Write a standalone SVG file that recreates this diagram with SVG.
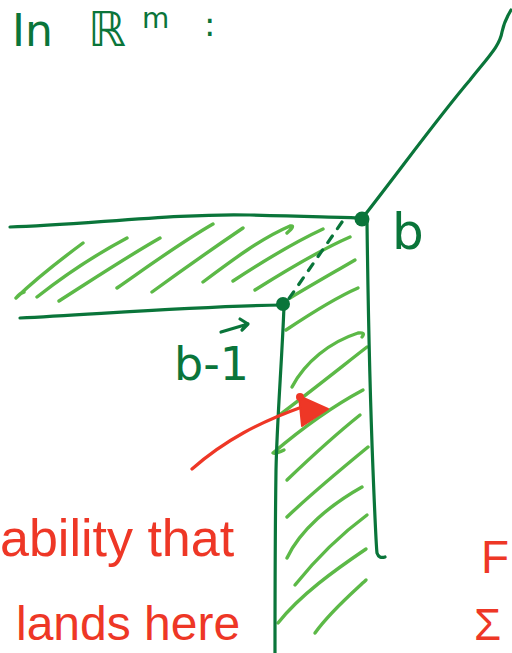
<svg xmlns="http://www.w3.org/2000/svg" width="512" height="653" viewBox="0 0 512 653">
<style>
.dk{fill:none;stroke:#0a753a;stroke-width:3.2;stroke-linecap:round;stroke-linejoin:round}
.hat{fill:none;stroke:#5cb947;stroke-width:3.4;stroke-linecap:round;stroke-linejoin:round}
.red{fill:none;stroke:#ee3726;stroke-width:3.2;stroke-linecap:round}
.gt{fill:#0a753a;font-family:"DejaVu Sans","Liberation Sans",sans-serif}
.rt{fill:#ee3726;font-family:"Liberation Sans","DejaVu Sans",sans-serif}
</style>
<rect width="512" height="653" fill="#ffffff"/>

<g id="title">
<text class="gt" x="12" y="46" font-size="44">In</text>
<text class="gt" x="88" y="46" font-size="48">ℝ</text>
<text class="gt" x="142" y="28" font-size="28">m</text>
<text class="gt" x="204" y="36" font-size="34">:</text>
</g>

<g id="region-horizontal">
<path class="hat" d="M16,298 Q20,293 24,292 M16,298 C40,275 60,260 83,243"/>
<path class="hat" d="M37,297 C65,275 95,255 127,238"/>
<path class="hat" d="M59,301 C95,278 125,258 160,238"/>
<path class="hat" d="M117,288 C150,265 180,243 213,224"/>
<path class="hat" d="M152,292 C185,268 215,247 243,228"/>
<path class="hat" d="M203,282 C235,258 262,238 290,226 Q296,225 287,233"/>
<path class="hat" d="M233,281 C265,260 295,242 323,229"/>
<path class="hat" d="M255,290 C290,268 320,250 350,237"/>
<path class="hat" d="M290,298 C315,283 338,270 355,260"/>
</g>

<g id="region-vertical">
<path class="hat" d="M286,330 C310,314 335,298 358,288"/>
<path class="hat" d="M292,387 C305,362 330,342 358,333 Q366,332 362,337"/>
<path class="hat" d="M278,416 C310,392 340,368 367,347"/>
<path class="hat" d="M284,450 Q276,454 273,453 C300,430 335,405 363,390"/>
<path class="hat" d="M287,480 C310,458 335,435 360,415"/>
<path class="hat" d="M287,517 C310,495 340,470 368,447"/>
<path class="hat" d="M287,558 C300,530 330,505 362,487"/>
<path class="hat" d="M295,585 C315,560 340,535 367,515"/>
<path class="hat" d="M278,623 C300,595 335,570 366,549"/>
<path class="hat" d="M315,633 C330,612 350,595 366,580"/>
</g>

<g id="connectors">
<path class="dk" d="M10,227 C80,225 180,213 250,215 S340,217 362,218"/>
<path class="dk" d="M20,318 C100,314 200,306 283,305"/>
<path class="dk" d="M364,216 C400,170 440,115 470,80 C490,55 500,45 502,32 C504,22 508,15 511,10"/>
<path class="dk" d="M367,222 C368,300 371,420 373,470 C375,520 376,545 377,553 Q379,559 385,557"/>
<path class="dk" d="M284,306 C282,360 277,420 276,470 C275,540 275,600 275,653"/>
<path class="dk" d="M342,222 L288,300" stroke-dasharray="8 9" stroke-width="3.6"/>
<path class="red" d="M192,469 C225,440 260,422 302,407"/>
<polygon points="299,396 328,409 302,426" fill="#ee3726" stroke="#ee3726" stroke-width="2" stroke-linejoin="round"/>
<circle cx="300" cy="397" r="4" fill="#ee3726"/>
</g>

<g id="point-b">
<circle cx="362" cy="219" r="7.5" fill="#0a753a"/>
<text class="gt" x="392" y="249" font-size="50">b</text>
</g>

<g id="point-b-minus-1">
<circle cx="283" cy="304" r="7" fill="#0a753a"/>
<text class="gt" x="174" y="380" font-size="46">b-1</text>
<path class="dk" d="M221,332 L248,324 M240,319 L248,324 L242,330"/>
</g>

<g id="note-left">
<text class="rt" x="0" y="556" font-size="52">ability that</text>
<text class="rt" x="16" y="640" font-size="48">lands here</text>
</g>

<g id="note-right">
<text class="rt" x="481" y="573" font-size="46">F</text>
<text class="rt" x="474" y="640" font-size="44">Σ</text>
</g>
</svg>
